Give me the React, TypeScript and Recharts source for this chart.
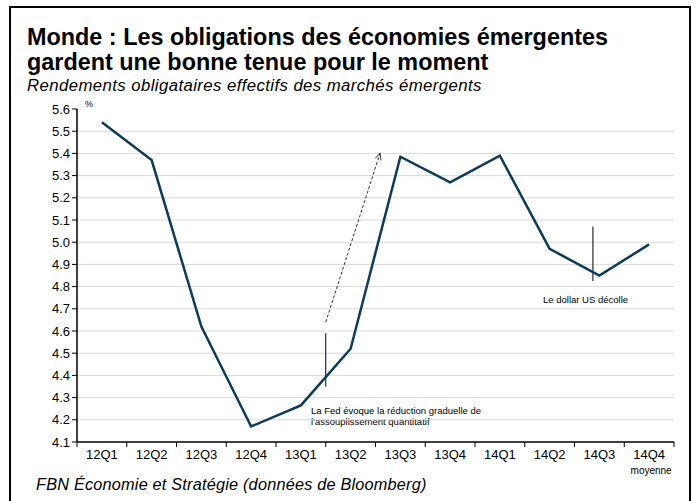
import { LineChart, Line, XAxis, YAxis, ReferenceLine } from "recharts";

const quarters = ["12Q1", "12Q2", "12Q3", "12Q4", "13Q1", "13Q2", "13Q3", "13Q4", "14Q1", "14Q2", "14Q3", "14Q4"];
const yields = [5.54, 5.37, 4.62, 4.17, 4.265, 4.52, 5.385, 5.27, 5.39, 4.97, 4.85, 4.99];
const yTicks = [4.1, 4.2, 4.3, 4.4, 4.5, 4.6, 4.7, 4.8, 4.9, 5.0, 5.1, 5.2, 5.3, 5.4, 5.5, 5.6];
const gridValues = yTicks.slice(1, -1);

// position on a 0..12 quarter scale (centre of each quarter = i + 0.5)
const data = quarters.map((q, i) => ({ q, v: yields[i], pos: i + 0.5 }));

const font = "Arial, 'Liberation Sans', sans-serif";

const XTick = (props: any) => {
  const { x, y, payload, index } = props;
  const half = payload?.offset || 24.9;
  return (
    <g>
      <line x1={x - half} y1={y - 8} x2={x - half} y2={y - 3} stroke="#000" />
      {index === quarters.length - 1 && (
        <line x1={x + half} y1={y - 8} x2={x + half} y2={y - 3} stroke="#000" />
      )}
      <text x={x} y={y + 9} textAnchor="middle" fontSize={13} fontFamily={font} fill="#000">
        {payload.value}
      </text>
      {index === quarters.length - 1 && (
        <text x={x + 2} y={y + 24} textAnchor="middle" fontSize={10} fontFamily={font} fill="#000">
          moyenne
        </text>
      )}
    </g>
  );
};

const Arrow = (props: any) => {
  const { x1, y1, x2, y2 } = props;
  const a = Math.atan2(y2 - y1, x2 - x1);
  const s = 7;
  const p1 = [x2 - s * Math.cos(a - 0.45), y2 - s * Math.sin(a - 0.45)];
  const p2 = [x2 - s * Math.cos(a + 0.45), y2 - s * Math.sin(a + 0.45)];
  return (
    <g stroke="#000" strokeWidth={0.8} fill="none">
      <line x1={x1} y1={y1} x2={x2} y2={y2} strokeDasharray="3 2" />
      <polyline points={`${p1[0]},${p1[1]} ${x2},${y2} ${p2[0]},${p2[1]}`} />
    </g>
  );
};

export default function App() {
  return (
    <div style={{ position: "absolute", left: 0, top: 0, width: 699, height: 501, background: "#fff", fontFamily: font, overflow: "hidden" }}>
      <div style={{ position: "absolute", left: 9, top: 6, width: 678, height: 520, borderTop: "2px solid #000", borderLeft: "2px solid #000", borderRight: "2px solid #000" }} />
      <div style={{ position: "absolute", left: 27, top: 25, fontSize: 23.4, fontWeight: "bold", lineHeight: "25px", color: "#000" }}>
        Monde : Les obligations des économies émergentes
        <br />
        gardent une bonne tenue pour le moment
      </div>
      <div style={{ position: "absolute", left: 27, top: 76, fontSize: 16.8, letterSpacing: 0.4, fontStyle: "italic", color: "#000" }}>
        Rendements obligataires effectifs des marchés émergents
      </div>
      <div style={{ position: "absolute", left: 85, top: 99, fontSize: 9, color: "#000" }}>%</div>
      <div style={{ position: "absolute", left: 311, top: 405, fontSize: 9.5, lineHeight: "11px", color: "#000" }}>
        La Fed évoque la réduction graduelle de
        <br />
        l'assouplissement quantitatif
      </div>
      <div style={{ position: "absolute", left: 543, top: 294, fontSize: 9.5, color: "#000" }}>Le dollar US décolle</div>
      <div style={{ position: "absolute", left: 36, top: 475, fontSize: 16.3, letterSpacing: 0.2, fontStyle: "italic", color: "#000" }}>
        FBN Économie et Stratégie (données de Bloomberg)
      </div>
      <div style={{ position: "absolute", left: 0, top: 0 }}>
        <LineChart width={699} height={501} data={data} margin={{ top: 109, right: 25, bottom: 29, left: 37 }}>
          <XAxis dataKey="q" scale="band" height={30} axisLine={{ stroke: "#000", strokeWidth: 1.5 }} tickLine={false} tick={<XTick />} interval={0} />
          <XAxis xAxisId="n" dataKey="pos" type="number" domain={[0, 12]} hide allowDataOverflow />
          <YAxis
            domain={[4.1, 5.6]}
            ticks={yTicks}
            width={40}
            interval={0}
            allowDataOverflow
            axisLine={{ stroke: "#000", strokeWidth: 1.5 }}
            tickLine={{ stroke: "#000" }}
            tickSize={5}
            tickFormatter={(v: number) => v.toFixed(1)}
            tick={{ fontSize: 13, fill: "#000", fontFamily: font }}
          />
          {gridValues.map((v) => (
            <ReferenceLine key={v} y={v} stroke="#d9d9d9" strokeWidth={1} />
          ))}
          <ReferenceLine xAxisId="n" segment={[{ x: 5.0, y: 4.35 }, { x: 5.0, y: 4.59 }]} stroke="#000" strokeWidth={1} ifOverflow="visible" />
          <ReferenceLine xAxisId="n" segment={[{ x: 10.37, y: 4.825 }, { x: 10.37, y: 5.07 }]} stroke="#000" strokeWidth={1} ifOverflow="visible" />
          <ReferenceLine xAxisId="n" segment={[{ x: 5.0, y: 4.64 }, { x: 6.09, y: 5.4 }]} shape={<Arrow />} ifOverflow="visible" />
          <Line dataKey="v" stroke="#0b3b5a" strokeWidth={2.5} dot={false} isAnimationActive={false} />
        </LineChart>
      </div>
    </div>
  );
}
